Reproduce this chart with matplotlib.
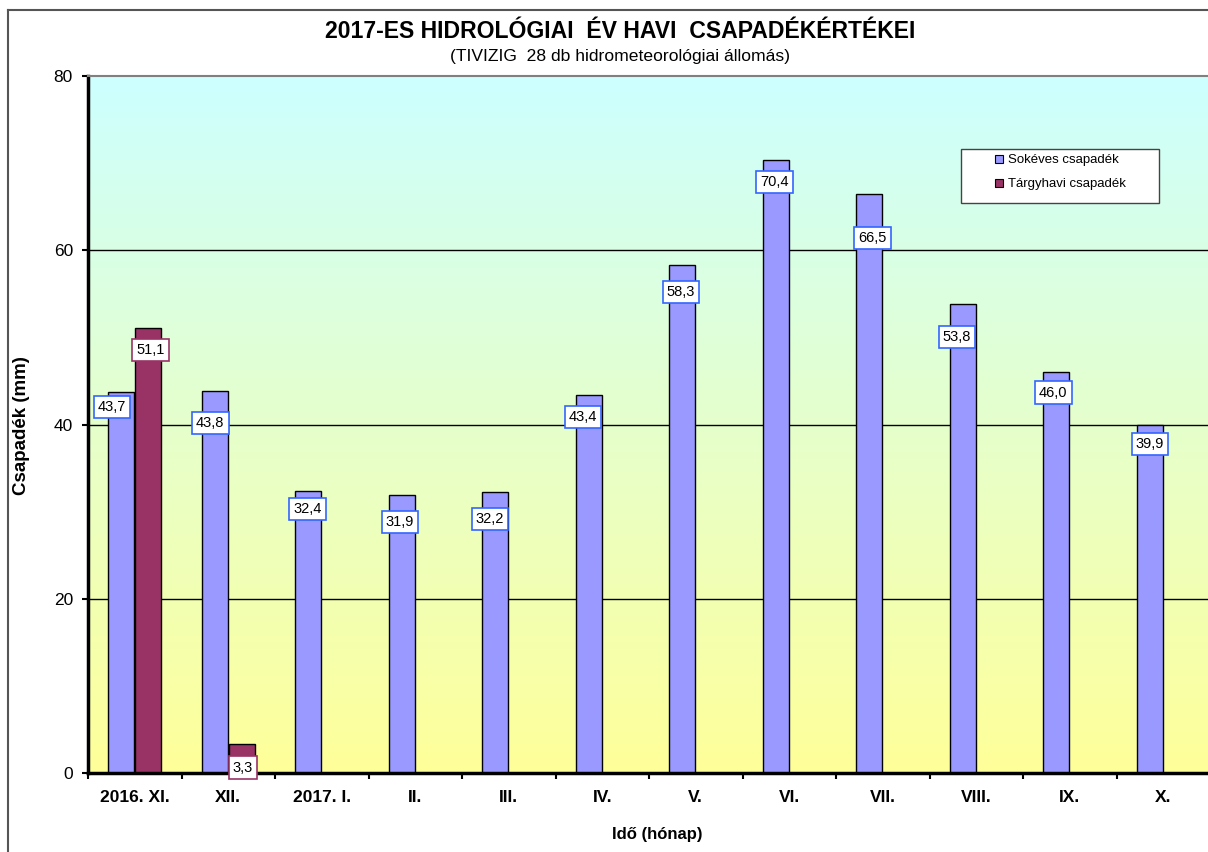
import matplotlib
matplotlib.use("Agg")
import matplotlib.pyplot as plt
import numpy as np
from matplotlib.colors import LinearSegmentedColormap
from matplotlib.lines import Line2D
from matplotlib.patches import Rectangle

plt.rcParams['font.family'] = ['Liberation Sans', 'DejaVu Sans']

# ---------------- data ----------------
months = ["2016. XI.", "XII.", "2017. I.", "II.", "III.", "IV.",
          "V.", "VI.", "VII.", "VIII.", "IX.", "X."]
sokeves = [43.7, 43.8, 32.4, 31.9, 32.2, 43.4, 58.3, 70.4, 66.5, 53.8, 46.0, 39.9]
targyhavi = [51.1, 3.3, None, None, None, None, None, None, None, None, None, None]
series_names = ["Sokéves csapadék", "Tárgyhavi csapadék"]
y_ticks = [0, 20, 40, 60, 80]

title = "2017-ES HIDROLÓGIAI  ÉV HAVI  CSAPADÉKÉRTÉKEI"
subtitle = "(TIVIZIG  28 db hidrometeorológiai állomás)"
ylabel = "Csapadék (mm)"
xlabel = "Idő (hónap)"

# ---------------- style ----------------
W, H = 1208, 852
col_sok = "#9999FF"
col_targy = "#993366"
lab_edge_sok = "#3366FF"
lab_edge_targy = "#993366"
# data label nudges (pixels, relative to bar top centre)
sok_label_nudge = [(-9.5, -14.7), (-4.5, -31.6), (-1, -18.3), (-2, -26.7), (-5.5, -26.5),
                   (-6, -21.8), (-1.5, -26.7), (-1, -22.4), (3, -44.2), (-6, -32.7),
                   (-3, -20.3), (0, -19)]
targy_label_nudge = [(2.5, -22), (1, -23.3)] + [(0, -22)] * 10

fig = plt.figure(figsize=(W / 100, H / 100), dpi=100)
fig.patch.set_facecolor("white")

left, right, top, bottom = 88, 1210, 76, 773
ax = fig.add_axes([left / W, 1 - bottom / H, (right - left) / W, (bottom - top) / H])

n = len(months)
x = np.arange(n)
ax.set_xlim(-0.5, n - 0.5)
ax.set_ylim(y_ticks[0], y_ticks[-1])

# gradient background
cmap = LinearSegmentedColormap.from_list("bg", ["#FFFF99", "#CCFFFF"])
grad = np.linspace(0, 1, 256).reshape(-1, 1)
ax.imshow(grad, cmap=cmap, aspect="auto", origin="lower",
          extent=[-0.5, n - 0.5, y_ticks[0], y_ticks[-1]], zorder=0)

# grid lines
for yv in y_ticks[1:-1]:
    ax.axhline(yv, color="black", lw=1.0, zorder=1)

bw = 0.28
off = 0.144
sok_bars = ax.bar(x - off, sokeves, width=bw, color=col_sok, edgecolor="black",
                  linewidth=1.0, zorder=2)
tx = [xi + off for xi, v in zip(x, targyhavi) if v is not None]
tv = [v for v in targyhavi if v is not None]
targ_bars = ax.bar(tx, tv, width=bw, color=col_targy, edgecolor="black",
                   linewidth=1.0, zorder=2)

def fmt(v):
    return f"{v:.1f}".replace(".", ",")

for (xi, v), (dx, dy) in zip(zip(x - off, sokeves), sok_label_nudge):
    ax.annotate(fmt(v), (xi, v), xytext=(dx, dy), textcoords="offset pixels",
                ha="center", va="center", fontsize=10.5, zorder=5,
                bbox=dict(boxstyle="square,pad=0.28", fc="white", ec=lab_edge_sok, lw=1.2))
for (xi, v), (dx, dy) in zip(zip(tx, tv), targy_label_nudge):
    ax.annotate(fmt(v), (xi, v), xytext=(dx, dy), textcoords="offset pixels",
                ha="center", va="center", fontsize=10.5, zorder=5,
                bbox=dict(boxstyle="square,pad=0.28", fc="white", ec=lab_edge_targy, lw=1.2))

# axes styling
ax.set_yticks(y_ticks)
ax.set_yticklabels([str(t) for t in y_ticks], fontsize=12.5)
ax.tick_params(axis="y", direction="out", length=4.3, width=1.5, pad=6.5)
ax.set_xticks(x)
ax.set_xticklabels(months, fontsize=12.5, fontweight="bold")
ax.tick_params(axis="x", which="major", length=0, pad=12)
ax.set_xticks(np.arange(n + 1) - 0.5, minor=True)
ax.tick_params(axis="x", which="minor", direction="out", length=4.5, width=1.5)

for s in ["left", "bottom"]:
    ax.spines[s].set_color("black")
    ax.spines[s].set_linewidth(2.5)
ax.spines["top"].set_color("#808080")
ax.spines["top"].set_linewidth(1.5)
ax.spines["right"].set_visible(False)

# titles / labels
fig.text(620 / W, 1 - 32 / H, title, ha="center", va="center",
         fontsize=16.6, fontweight="bold")
fig.text(620 / W, 1 - 56 / H, subtitle, ha="center", va="center", fontsize=12.6)
fig.text(22 / W, 1 - 426 / H, ylabel, ha="center", va="center", rotation=90,
         fontsize=13.5, fontweight="bold")
fig.text(657 / W, 1 - 834 / H, xlabel, ha="center", va="center",
         fontsize=12, fontweight="bold")

# outer chart border
fig.add_artist(Line2D([8 / W, 8 / W], [0, 1 - 10 / H], transform=fig.transFigure,
                      color="#555555", lw=1.5))
fig.add_artist(Line2D([8 / W, 1], [1 - 10 / H, 1 - 10 / H], transform=fig.transFigure,
                      color="#555555", lw=1.5))

# legend (frame drawn as box, entries by matplotlib legend)
fig.add_artist(Rectangle((961 / W, 1 - 203 / H), 198 / W, 54 / H,
                         transform=fig.transFigure, fc="white", ec="#444444", lw=1.0,
                         zorder=6))
handles = [Line2D([], [], marker="s", ls="none", ms=6, mfc=col_sok, mec="black", mew=0.8),
           Line2D([], [], marker="s", ls="none", ms=6, mfc=col_targy, mec="black", mew=0.8)]
leg = fig.legend(handles, series_names, loc="upper left",
                 bbox_to_anchor=(990 / W, 1 - 150 / H), frameon=False,
                 fontsize=9.5, handlelength=0.8, handletextpad=0.3,
                 labelspacing=0.9, borderaxespad=0, borderpad=0.3)
leg.set_zorder(7)

fig.savefig("out.png", dpi=100)
